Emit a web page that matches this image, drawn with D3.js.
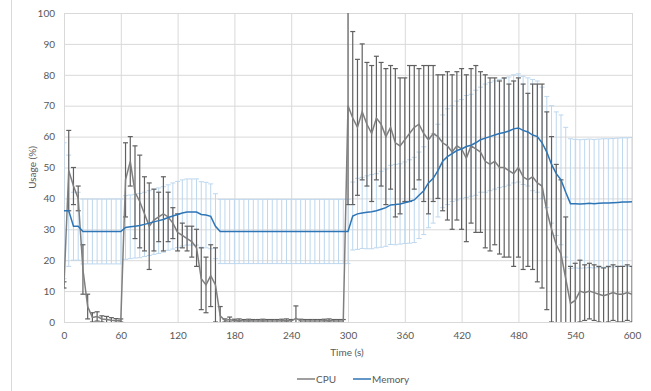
<!DOCTYPE html>
<html>
<head>
<meta charset="utf-8">
<script src="https://cdn.jsdelivr.net/npm/d3@7"></script>
<style>
  body { margin: 0; background: #fff; }
  text { font-family: Lato, "Open Sans", sans-serif; fill: #595959; }
</style>
</head>
<body>
<div id="chart"></div>
<script>
// sample times (s), one sample every 5 s from 0 to 600
const times = d3.range(0, 601, 5);

const cpuMean = [
  12, 49, 44, 40, 17, 5, 1.5, 1.8, 1, 0.8, 0.6, 0.5, 0.5,
  46, 52, 42, 39, 35, 31, 33, 34, 35, 34, 32, 29, 28, 27, 26, 24,
  14, 12, 15, 12, 2,
  0.5, 0.8, 0.4, 0.5, 0.3, 0.4, 0.3, 0.3, 0.4, 0.3, 0.3, 0.3, 0.4, 0.5, 0.3,
  1.2, 0.4, 0.3, 0.3, 0.3, 0.3, 0.4, 0.5, 0.3, 0.3, 0.3,
  70, 66, 63, 68, 64, 61, 66, 64, 60, 63, 58, 57, 59, 61, 63, 64, 61, 59, 61, 60,
  58, 57, 55, 57, 56, 53, 57, 56, 55, 52, 51, 52, 50, 50, 49, 48, 50, 47, 46, 47,
  45, 44, 36, 30, 25, 22, 14, 6, 7, 10,
  9.5, 10, 9.5, 9, 8.5, 9, 9.5, 9, 9, 9.5, 9
];
const cpuErr = [
  1, 13, 6, 4, 8, 4, 1.5, 1.5, 1, 1, 0.8, 0.6, 0.5,
  12, 8, 15, 15, 12, 14, 10, 8, 12, 8, 5, 6, 4, 4, 5, 6,
  10, 9, 10, 12, 3,
  0.5, 0.8, 0.5, 0.5, 0.5, 0.5, 0.5, 0.5, 0.5, 0.5, 0.5, 0.5, 0.5, 0.5, 0.5,
  4, 0.5, 0.5, 0.5, 0.5, 0.5, 0.5, 0.5, 0.5, 0.5, 0.5,
  32, 28, 22, 22, 20, 22, 20, 20, 22, 20, 24, 22, 20, 22, 20, 18, 22, 24, 22, 20,
  22, 24, 25, 24, 26, 27, 25, 27, 26, 28, 28, 27, 28, 29, 28, 30, 29, 30, 28, 30,
  32, 33, 32, 30, 26, 24, 20, 12, 12, 10,
  9, 9, 9, 9, 9, 9, 9, 9, 9, 9, 9
];
const memMean = [
  36, 36, 31, 31, 29.3, 29.3, 29.3, 29.3, 29.3, 29.3, 29.3, 29.3, 29.3,
  30.6, 30.8, 31, 31.2, 31.6, 32, 32.4, 32.8, 33.2, 33.8, 34.3, 34.8, 35.3, 35.6, 35.6, 35.6,
  34.8, 34.6, 34.2, 31, 29.3,
  29.3, 29.3, 29.3, 29.3, 29.3, 29.3, 29.3, 29.3, 29.3, 29.3, 29.3, 29.3, 29.3, 29.3, 29.3,
  29.3, 29.3, 29.3, 29.3, 29.3, 29.3, 29.3, 29.3, 29.3, 29.3, 29.3,
  29.3, 34.3, 35, 35.3, 35.5, 35.7, 36, 36.5, 37, 37.9, 38, 38.2, 38.6, 39, 39.5, 41, 42.5, 45, 46.5, 49,
  52, 53.5, 54.5, 55.5, 56, 56.8, 57.2, 58, 59, 59.5, 60, 60.5, 61, 61.3, 61.8, 62.5, 62.8, 62, 61.5, 60.5,
  60, 58, 55, 51, 48, 46, 42, 38.3, 38.3, 38.2,
  38.3, 38.4, 38.3, 38.4, 38.5, 38.5, 38.6, 38.7, 38.8, 38.8, 38.9
];
const memErr = [
  22, 18, 11, 11, 10.5, 10.5, 10.5, 10.5, 10.5, 10.5, 10.5, 10.5, 10.5,
  10.3, 10.3, 10.3, 10.4, 10.4, 10.5, 10.5, 10.6, 10.6, 10.6, 10.7, 10.7, 10.7, 10.7, 10.7, 10.7,
  10.6, 10.6, 10.5, 10.5, 10.4,
  10.4, 10.4, 10.4, 10.4, 10.4, 10.4, 10.4, 10.4, 10.4, 10.4, 10.4, 10.4, 10.4, 10.4, 10.4,
  10.4, 10.4, 10.4, 10.4, 10.4, 10.4, 10.4, 10.4, 10.4, 10.4, 10.4,
  10.4, 11, 11.5, 11.5, 11.8, 12, 12, 12.3, 12.5, 12.8, 13, 13, 13.2, 13.5, 13.8, 14, 14.2, 14.5, 14.5, 15,
  15, 15.5, 15.5, 16, 16, 16.5, 16.5, 17, 17, 17.5, 17.5, 17.5, 17.5, 17.5, 17.5, 17.5, 17.5, 17.5, 17.5, 18,
  18, 18, 18, 19, 20, 21, 21, 21, 20.8, 20.8,
  20.8, 20.8, 20.8, 20.8, 20.8, 20.8, 20.8, 20.8, 20.8, 20.8, 20.8
];

const xTicks = [0, 60, 120, 180, 240, 300, 360, 420, 480, 540, 600];
const yTicks = [0, 10, 20, 30, 40, 50, 60, 70, 80, 90, 100];
const seriesNames = ["CPU", "Memory"];

const W = 651, H = 391;
const plot = {left: 64, right: 632, top: 13, bottom: 322};

const cpu = times.map((t, i) => ({t: t, v: cpuMean[i], e: cpuErr[i]}));
const mem = times.map((t, i) => ({t: t, v: memMean[i], e: memErr[i]}));

const svg = d3.select("#chart").append("svg")
    .attr("width", W)
    .attr("height", H);

// chart area border on the left edge
svg.append("line")
    .attr("x1", 11.5).attr("x2", 11.5)
    .attr("y1", 0).attr("y2", H)
    .attr("stroke", "#d9d9d9");

const x = d3.scaleLinear().domain([0, 600]).range([plot.left, plot.right]);
const y = d3.scaleLinear().domain([0, 100]).range([plot.bottom, plot.top]);

svg.append("clipPath").attr("id", "clip")
  .append("rect")
    .attr("x", plot.left).attr("y", plot.top)
    .attr("width", plot.right - plot.left)
    .attr("height", plot.bottom - plot.top);

// gridlines
svg.append("g")
    .attr("transform", `translate(0,${plot.bottom})`)
    .call(d3.axisBottom(x).tickValues(xTicks).tickSize(-(plot.bottom - plot.top)).tickFormat(""))
    .call(g => g.select(".domain").remove())
    .call(g => g.selectAll("line").attr("stroke", "#d9d9d9"));
svg.append("g")
    .attr("transform", `translate(${plot.left},0)`)
    .call(d3.axisLeft(y).tickValues(yTicks).tickSize(-(plot.right - plot.left)).tickFormat(""))
    .call(g => g.select(".domain").remove())
    .call(g => g.selectAll("line").attr("stroke", "#d9d9d9"));

// tick labels
svg.append("g")
    .attr("transform", `translate(0,${plot.bottom + 6})`)
    .call(d3.axisBottom(x).tickValues(xTicks).tickSize(0).tickPadding(4))
    .call(g => g.select(".domain").remove())
    .call(g => g.selectAll("text").attr("font-size", 10).attr("fill", "#595959"));
svg.append("g")
    .attr("transform", `translate(${plot.left - 9},0)`)
    .call(d3.axisLeft(y).tickValues(yTicks).tickSize(0).tickPadding(0))
    .call(g => g.select(".domain").remove())
    .call(g => g.selectAll("text").attr("font-size", 10).attr("fill", "#595959"));

// axis titles
svg.append("text")
    .attr("x", (plot.left + plot.right) / 2 - 1)
    .attr("y", 356)
    .attr("text-anchor", "middle")
    .attr("font-size", 10)
    .text("Time (s)");
svg.append("text")
    .attr("transform", `translate(36,${(plot.top + plot.bottom) / 2}) rotate(-90)`)
    .attr("text-anchor", "middle")
    .attr("font-size", 10)
    .text("Usage (%)");

const layer = svg.append("g").attr("clip-path", "url(#clip)");

function errorBars(data, color, width) {
    const g = layer.append("g").attr("stroke", color).attr("stroke-width", width);
    g.selectAll(".bar").data(data).join("line")
        .attr("x1", d => x(d.t)).attr("x2", d => x(d.t))
        .attr("y1", d => y(d.v - d.e)).attr("y2", d => y(d.v + d.e));
    g.selectAll(".capTop").data(data).join("line").attr("class", "capTop")
        .attr("x1", d => x(d.t) - 2.5).attr("x2", d => x(d.t) + 2.5)
        .attr("y1", d => y(d.v + d.e)).attr("y2", d => y(d.v + d.e));
    g.selectAll(".capBot").data(data).join("line").attr("class", "capBot")
        .attr("x1", d => x(d.t) - 2.5).attr("x2", d => x(d.t) + 2.5)
        .attr("y1", d => y(d.v - d.e)).attr("y2", d => y(d.v - d.e));
}

errorBars(mem, "#bdd7ee", 1);
errorBars(cpu, "#606060", 1.2);

const line = d3.line().x(d => x(d.t)).y(d => y(d.v));

layer.append("path")
    .datum(cpu)
    .attr("fill", "none")
    .attr("stroke", "#7f7f7f")
    .attr("stroke-width", 1.5)
    .attr("d", line);

layer.append("path")
    .datum(mem)
    .attr("fill", "none")
    .attr("stroke", "#2e75b6")
    .attr("stroke-width", 1.5)
    .attr("d", line);

// legend
const legendColors = ["#7f7f7f", "#2e75b6"];
const legendX = [297, 353];
const legend = svg.append("g");
seriesNames.forEach((name, i) => {
    legend.append("line")
        .attr("x1", legendX[i]).attr("x2", legendX[i] + 18)
        .attr("y1", 379).attr("y2", 379)
        .attr("stroke", legendColors[i])
        .attr("stroke-width", 1.5);
    legend.append("text")
        .attr("x", legendX[i] + 19)
        .attr("y", 383)
        .attr("font-size", 10)
        .text(name);
});
</script>
</body>
</html>
